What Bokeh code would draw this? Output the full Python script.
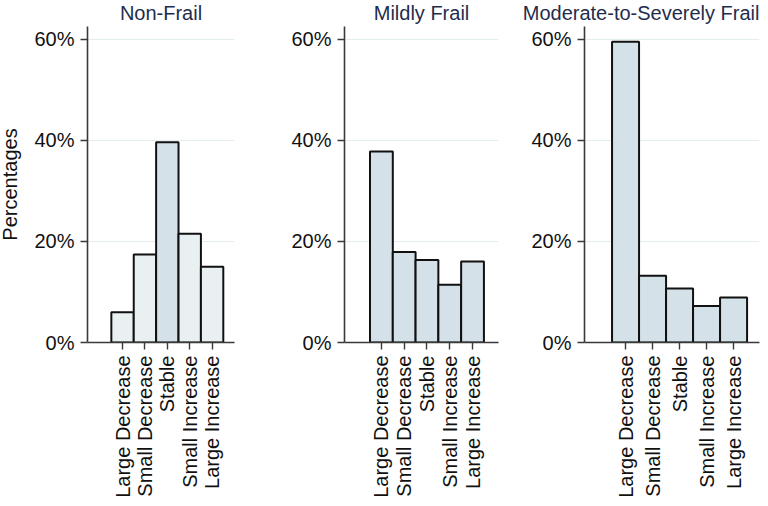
import math
from bokeh.plotting import figure
from bokeh.models import Range1d, FixedTicker, PrintfTickFormatter
from bokeh.layouts import row
from bokeh.embed import file_html
from bokeh.resources import INLINE

categories = ["Large Decrease", "Small Decrease", "Stable", "Small Increase", "Large Increase"]
panel_titles = ["Non-Frail", "Mildly Frail", "Moderate-to-Severely Frail"]
non_frail = [6.0, 17.4, 39.6, 21.5, 15.0]
mildly_frail = [37.8, 17.9, 16.3, 11.4, 16.0]
moderate_severe = [59.5, 13.2, 10.7, 7.2, 8.9]
y_ticks = [0, 20, 40, 60]

FONT = "Liberation Sans"
LIGHT = "#e9f0f2"
MID = "#d5e1e8"


def make_panel(title, values, colors, width, bl, br, xr, ylabel=None, title_align="center"):
    xs = list(range(1, len(categories) + 1))
    p = figure(width=width, height=500, x_range=Range1d(*xr), y_range=Range1d(0, 62.5),
               output_backend="svg", toolbar_location=None,
               min_border_left=bl, min_border_right=br, min_border_top=26, min_border_bottom=10)
    p.outline_line_color = None
    p.background_fill_color = "white"
    p.border_fill_color = "white"
    p.vbar(x=xs, top=values, width=1.0, bottom=0, fill_color=colors,
           line_color="#111111", line_width=2)
    p.title.text = title
    p.title.align = title_align
    p.title.text_font = FONT
    p.title.text_font_size = "20px"
    p.title.text_font_style = "normal"
    p.title.text_color = "#1f2d4d"
    p.title.text_line_height = 1.0
    p.title.standoff = 2
    p.title.vertical_align = "top"
    p.xgrid.visible = False
    p.ygrid.grid_line_color = "#e3ecef"
    p.ygrid.grid_line_width = 1.2
    p.ygrid.ticker = FixedTicker(ticks=y_ticks)
    p.yaxis.ticker = FixedTicker(ticks=y_ticks)
    p.yaxis.formatter = PrintfTickFormatter(format="%d%%")
    p.xaxis.ticker = FixedTicker(ticks=xs)
    p.xaxis.major_label_overrides = {x: c for x, c in zip(xs, categories)}
    p.xaxis.major_label_orientation = math.pi / 2
    for ax in (p.xaxis, p.yaxis):
        ax.axis_line_color = "#3a3a3a"
        ax.axis_line_width = 1.6
        ax.major_tick_line_color = "#3a3a3a"
        ax.major_tick_line_width = 1.4
        ax.major_tick_out = 7
        ax.major_tick_in = 0
        ax.minor_tick_line_color = None
        ax.major_label_text_font = FONT
        ax.major_label_text_font_size = "20px"
        ax.major_label_text_color = "#111111"
        ax.major_label_standoff = 6
    if ylabel:
        p.yaxis.axis_label = ylabel
        p.yaxis.axis_label_text_font = FONT
        p.yaxis.axis_label_text_font_size = "20px"
        p.yaxis.axis_label_text_font_style = "normal"
        p.yaxis.axis_label_text_color = "#111111"
        p.yaxis.axis_label_standoff = 10
    return p


p1 = make_panel(panel_titles[0], non_frail, [LIGHT, LIGHT, MID, LIGHT, LIGHT], 260, 87, 22,
                (-0.565, 6.0), ylabel="Percentages")
p2 = make_panel(panel_titles[1], mildly_frail, [MID] * 5, 260, 88, 18, (-0.62, 6.14))
p3 = make_panel(panel_titles[2], moderate_severe, [MID] * 5, 248, 68, 5, (-0.52, 5.96),
                title_align="right")

layout = row(p1, p2, p3, margin=(0, 0, 0, -4))
open("out.html", "w").write(file_html(layout, INLINE))
